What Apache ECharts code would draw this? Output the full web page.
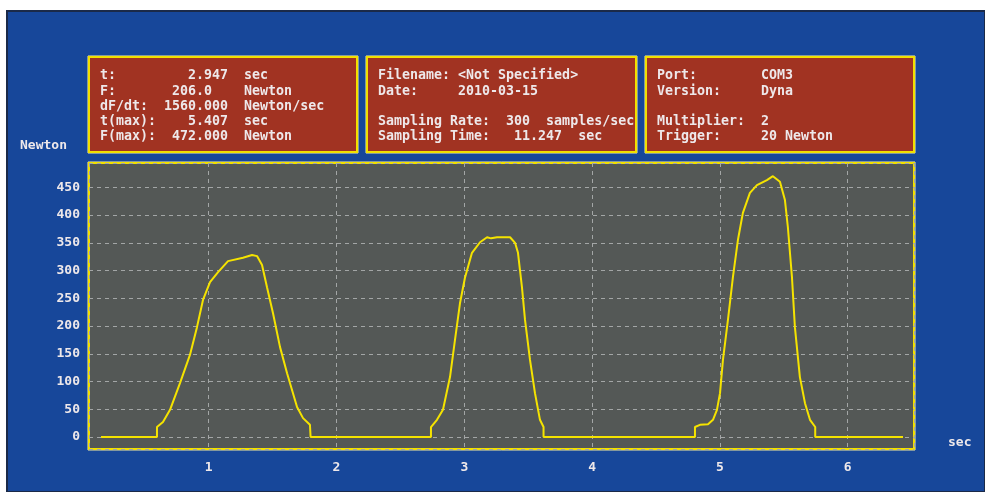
<!DOCTYPE html>
<html>
<head>
<meta charset="utf-8">
<script src="https://cdn.jsdelivr.net/npm/echarts@6/dist/echarts.min.js"></script>
<style>
    html, body { margin: 0; padding: 0; background: #ffffff; }
    #main { width: 985px; height: 492px; }
</style>
</head>
<body>
<div id="main"></div>
<script>
// force trace: time (sec) and force (Newton)
var timeSec = [
    0.157, 0.595, 0.595, 0.642, 0.697, 0.775, 0.853, 0.908, 0.955, 1.010, 1.073, 1.151, 1.268, 1.339, 1.378,
    1.417, 1.456, 1.503, 1.558, 1.613, 1.691, 1.738, 1.792, 1.797, 1.797,
    2.739, 2.739, 2.786, 2.833, 2.888, 2.927, 2.966, 3.005, 3.060, 3.123, 3.178, 3.210, 3.256, 3.358,
    3.397, 3.420, 3.451, 3.475, 3.514, 3.553, 3.592, 3.620, 3.620,
    4.805, 4.805, 4.844, 4.907, 4.946, 4.977, 5.001, 5.024, 5.063, 5.102, 5.141, 5.180, 5.235, 5.290,
    5.368, 5.415, 5.470, 5.509, 5.532, 5.564, 5.587, 5.626, 5.666, 5.705, 5.746, 5.746, 6.433
];
var forceN = [
    0, 0, 18, 27, 49, 97, 148, 198, 247, 279, 297, 317, 323, 328, 326,
    310, 270, 223, 162, 115, 54, 34, 22, 22, 0,
    0, 18, 31, 49, 108, 175, 241, 287, 332, 351, 360, 358, 360, 360,
    350, 332, 270, 211, 139, 79, 31, 18, 0,
    0, 18, 22, 23, 31, 49, 79, 139, 211, 288, 355, 404, 440, 454,
    463, 470, 460, 427, 378, 288, 198, 108, 61, 31, 18, 0, 0
];

var xTickLabels = ['1', '2', '3', '4', '5', '6'];
var yTickLabels = ['0', '50', '100', '150', '200', '250', '300', '350', '400', '450'];

var infoLeft = [
    't:         2.947  sec',
    'F:       206.0    Newton',
    'dF/dt:  1560.000  Newton/sec',
    't(max):    5.407  sec',
    'F(max):  472.000  Newton'
];
var infoMid = [
    'Filename: <Not Specified>',
    'Date:     2010-03-15',
    '',
    'Sampling Rate:  300  samples/sec',
    'Sampling Time:   11.247  sec'
];
var infoRight = [
    'Port:        COM3',
    'Version:     Dyna',
    '',
    'Multiplier:  2',
    'Trigger:     20 Newton'
];

var gridBox = { left: 89, top: 163, width: 825, height: 286 };
var monoFont = '"DejaVu Sans Mono", "Liberation Mono", monospace';
var textColor = '#eee8ea';

var points = [];
for (var i = 0; i < timeSec.length; i++) {
    points.push([timeSec[i], forceN[i]]);
}

var infoBox = function (x, w, lines) {
    var children = [{
        type: 'rect',
        shape: { x: x - 1, y: 56, width: w + 2, height: 97 },
        style: { fill: 'none', stroke: '#f6eea0', lineWidth: 1 }
    }, {
        type: 'rect',
        shape: { x: x, y: 57, width: w, height: 95 },
        style: { fill: '#a13322', stroke: '#f2e000', lineWidth: 2 }
    }];
    for (var k = 0; k < lines.length; k++) {
        if (!lines[k]) { continue; }
        children.push({
            type: 'text',
            style: {
                x: x + 11, y: 76 + k * 15.2,
                text: lines[k],
                font: 'bold 13.3px ' + monoFont,
                fill: textColor,
                verticalAlign: 'middle'
            }
        });
    }
    return { type: 'group', z: 10, children: children };
};

var chart = echarts.init(document.getElementById('main'), null, { renderer: 'canvas' });

chart.setOption({
    animation: false,
    backgroundColor: '#ffffff',
    grid: {
        left: gridBox.left,
        top: gridBox.top,
        width: gridBox.width,
        height: gridBox.height,
        show: true,
        backgroundColor: '#545856',
        borderWidth: 0
    },
    xAxis: {
        type: 'value',
        min: 0.063,
        max: 6.519,
        splitNumber: 6,
        axisLine: { show: false },
        axisTick: { show: false },
        axisLabel: {
            showMinLabel: false,
            showMaxLabel: false,
            margin: 12,
            color: textColor,
            fontFamily: monoFont,
            fontWeight: 'bold',
            fontSize: 13,
            formatter: function (v) {
                var idx = Math.round(v) - 1;
                return Math.abs(v - Math.round(v)) < 1e-6 && xTickLabels[idx] ? xTickLabels[idx] : '';
            }
        },
        splitLine: { show: true, lineStyle: { color: '#a3a6a6', type: [4, 4], width: 1 } }
    },
    yAxis: {
        type: 'value',
        min: -21.6,
        max: 493.8,
        splitNumber: 10,
        axisLine: { show: false },
        axisTick: { show: false },
        axisLabel: {
            showMinLabel: false,
            showMaxLabel: false,
            margin: 9,
            color: textColor,
            fontFamily: monoFont,
            fontWeight: 'bold',
            fontSize: 13,
            formatter: function (v) {
                var idx = Math.round(v / 50);
                return Math.abs(v - idx * 50) < 1e-6 && yTickLabels[idx] ? yTickLabels[idx] : '';
            }
        },
        splitLine: { show: true, lineStyle: { color: '#a3a6a6', type: [4, 4], width: 1 } }
    },
    series: [{
        type: 'line',
        data: points,
        showSymbol: false,
        smooth: false,
        lineStyle: { color: '#f5e300', width: 2 },
        z: 3
    }],
    graphic: [{
        type: 'rect',
        z: -10,
        silent: true,
        shape: { x: 7, y: 11, width: 978, height: 481 },
        style: { fill: '#17479a', stroke: '#1b2a48', lineWidth: 2 }
    },
    infoBox(89, 268, infoLeft),
    infoBox(367, 269, infoMid),
    infoBox(646, 268, infoRight),
    {
        type: 'group',
        z: 10,
        children: [{
            type: 'rect',
            shape: { x: gridBox.left - 1, y: gridBox.top - 1, width: gridBox.width + 2, height: gridBox.height + 2 },
            style: { fill: 'none', stroke: '#f6eea0', lineWidth: 1 }
        }, {
            type: 'rect',
            shape: { x: gridBox.left, y: gridBox.top, width: gridBox.width, height: gridBox.height },
            style: { fill: 'none', stroke: '#f2e000', lineWidth: 2 }
        }]
    }, {
        type: 'text',
        z: 10,
        style: {
            x: 20, y: 146, text: 'Newton',
            font: 'bold 13px ' + monoFont, fill: textColor, verticalAlign: 'middle'
        }
    }, {
        type: 'text',
        z: 10,
        style: {
            x: 948, y: 443, text: 'sec',
            font: 'bold 13px ' + monoFont, fill: textColor, verticalAlign: 'middle'
        }
    }]
});
</script>
</body>
</html>
